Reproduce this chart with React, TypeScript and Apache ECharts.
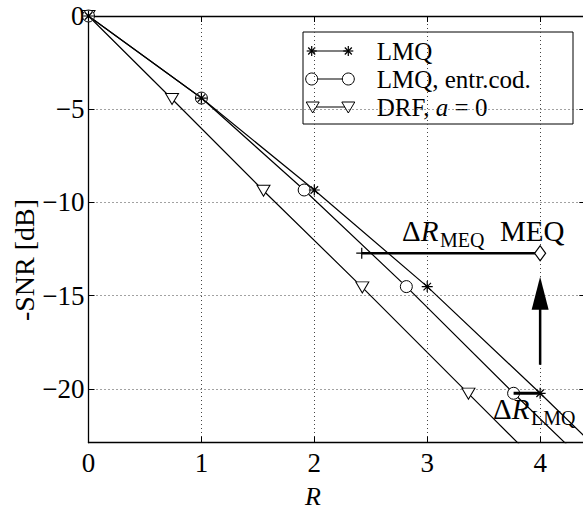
import React, { useEffect, useRef } from "react";
import * as echarts from "echarts";

// ---- data (R, -SNR [dB]) ----
const lmqR = [0, 1, 2, 3, 4, 5];
const lmqSnr = [0, -4.4, -9.33, -14.51, -20.23, -26.1];
const lmqEcR = [0, 1, 1.91, 2.815, 3.765, 4.77];
const lmqEcSnr = [0, -4.4, -9.33, -14.51, -20.23, -26.1];
const drfR = [0, 0.74, 1.55, 2.425, 3.365, 4.4];
const drfSnr = [0, -4.45, -9.37, -14.55, -20.25, -26.5];

const xTicks = [0, 1, 2, 3, 4];
const yTicks = [0, -5, -10, -15, -20];

// annotations
const meqLineR = [2.42, 4];
const meqLineSnr = [-12.72, -12.72];
const dLmqR = [3.765, 4];
const dLmqSnr = [-20.23, -20.23];
const arrowR = [4, 4];
const arrowSnr = [-18.7, -15.7];
const arrowHeadR = [4];
const arrowHeadSnr = [-14.87];

const FONT = "Liberation Serif";

const starPath = "path://M5 0L5 10M0 5L10 5M1.6 1.6L8.4 8.4M1.6 8.4L8.4 1.6";
const circlePath = "path://M0 6A6 6 0 1 0 12 6A6 6 0 1 0 0 6Z";
const triPath = "path://M0 0L12 0L6 10Z";
const diamondPath = "path://M5 0L10 7L5 14L0 7Z";
const plusPath = "path://M0 5L10 5M5 0L5 10";

const pts = (xs: number[], ys: number[]) => xs.map((x, i) => [x, -ys[i]]);

const serif = (size: number, italic = false) => ({
  fontFamily: FONT,
  fontSize: size,
  fontStyle: italic ? "italic" : "normal",
  fill: "#000",
  color: "#000",
});

export default function App() {
  const ref = useRef<HTMLDivElement>(null);
  useEffect(() => {
    document.body.style.margin = "0";
    const chart = echarts.init(ref.current!, undefined, { renderer: "svg" });
    const gridStyle = { color: "#444", type: [1, 3] as any, width: 1 };
    const axisLine = { onZero: false, lineStyle: { color: "#000", width: 1.3 } };
    const tick = { inside: true, length: 6, lineStyle: { color: "#000", width: 1 } };

    const legendRows = [51, 79, 107];
    const lx1 = 311.7, lx2 = 348.3;
    const star = (cx: number, cy: number) => ({
      type: "group",
      children: [
        { type: "line", shape: { x1: cx - 5, y1: cy, x2: cx + 5, y2: cy }, style: { stroke: "#000", lineWidth: 1.2 } },
        { type: "line", shape: { x1: cx, y1: cy - 5, x2: cx, y2: cy + 5 }, style: { stroke: "#000", lineWidth: 1.2 } },
        { type: "line", shape: { x1: cx - 3.5, y1: cy - 3.5, x2: cx + 3.5, y2: cy + 3.5 }, style: { stroke: "#000", lineWidth: 1.2 } },
        { type: "line", shape: { x1: cx - 3.5, y1: cy + 3.5, x2: cx + 3.5, y2: cy - 3.5 }, style: { stroke: "#000", lineWidth: 1.2 } },
      ],
    });
    const tri = (cx: number, cy: number) => ({
      type: "polygon",
      shape: { points: [[cx - 6.5, cy - 5], [cx + 6.5, cy - 5], [cx, cy + 6]] },
      style: { fill: "#fff", stroke: "#000", lineWidth: 1 },
    });
    const circ = (cx: number, cy: number) => ({
      type: "circle",
      shape: { cx, cy, r: 6 },
      style: { fill: "#fff", stroke: "#000", lineWidth: 1 },
    });
    const sampleLine = (y: number) => ({
      type: "line",
      shape: { x1: lx1, y1: y, x2: lx2, y2: y },
      style: { stroke: "#000", lineWidth: 1.2 },
    });
    const richText = (x: number, y: number, text: string, rich: any, extra: any = {}) => ({
      type: "text",
      x,
      y,
      ...extra,
      style: {
        text,
        ...serif(28),
        align: "left",
        verticalAlign: "middle",
        rich,
      },
    });
    const legendRich = { n: serif(25), i: serif(25, true) };

    const option: any = {
      animation: false,
      backgroundColor: "#fff",
      textStyle: { fontFamily: FONT },
      grid: {
        left: 88.5,
        top: 16,
        width: 496.8,
        height: 426.7,
        containLabel: false,
        outerBoundsMode: "none",
      },
      xAxis: [
        {
          type: "value",
          min: 0,
          max: 4.4,
          interval: 1,
          position: "bottom",
          axisLine,
          axisTick: tick,
          axisLabel: {
            fontFamily: FONT,
            fontSize: 27,
            color: "#000",
            margin: 7,
            rich: { t: serif(27) },
            formatter: (v: number) => (xTicks.includes(v) ? "{t|" + v + "}" : ""),
          },
          splitLine: { show: true, lineStyle: gridStyle },
        },
        {
          type: "value",
          min: 0,
          max: 4.4,
          interval: 1,
          position: "top",
          axisLine,
          axisTick: tick,
          axisLabel: { show: false },
          splitLine: { show: false },
        },
      ],
      yAxis: [
        {
          type: "value",
          inverse: true,
          min: 0,
          max: 22.88,
          interval: 5,
          position: "left",
          axisLine,
          axisTick: tick,
          axisLabel: {
            fontFamily: FONT,
            fontSize: 27,
            color: "#000",
            margin: 4,
            rich: { t: serif(27) },
            formatter: (v: number) =>
              yTicks.includes(-v) ? "{t|" + (v === 0 ? "0" : "\u2212" + v) + "}" : "",
          },
          splitLine: { show: true, lineStyle: gridStyle },
        },
        {
          type: "value",
          inverse: true,
          min: 0,
          max: 22.88,
          interval: 5,
          position: "right",
          axisLine,
          axisTick: tick,
          axisLabel: { show: false },
          splitLine: { show: false },
        },
      ],
      series: [
        {
          name: "DRF, a = 0",
          type: "line",
          data: pts(drfR, drfSnr),
          symbol: triPath,
          symbolSize: [13, 11],
          lineStyle: { color: "#000", width: 1.2 },
          itemStyle: { color: "#fff", borderColor: "#000", borderWidth: 1 },
          z: 3,
        },
        {
          name: "LMQ, entr.cod.",
          type: "line",
          data: pts(lmqEcR, lmqEcSnr),
          symbol: circlePath,
          symbolSize: 12,
          lineStyle: { color: "#000", width: 1.2 },
          itemStyle: { color: "#fff", borderColor: "#000", borderWidth: 1 },
          z: 4,
        },
        {
          name: "LMQ",
          type: "line",
          data: pts(lmqR, lmqSnr),
          symbol: starPath,
          symbolSize: 11,
          lineStyle: { color: "#000", width: 1.2 },
          itemStyle: { color: "#000", borderColor: "#000", borderWidth: 1.2 },
          z: 5,
        },
        {
          name: "MEQ",
          type: "line",
          data: pts(meqLineR, meqLineSnr).map((p, i) => ({
            value: p,
            symbol: i === 0 ? plusPath : diamondPath,
            symbolSize: i === 0 ? 11 : [11, 15],
          })),
          lineStyle: { color: "#000", width: 2.5 },
          itemStyle: { color: "#fff", borderColor: "#000", borderWidth: 1.2 },
          z: 6,
        },
        {
          name: "dLMQ",
          type: "line",
          data: pts(dLmqR, dLmqSnr),
          symbol: "none",
          lineStyle: { color: "#000", width: 3 },
          z: 6,
        },
        {
          name: "arrow",
          type: "line",
          data: pts(arrowR, arrowSnr),
          symbol: "none",
          lineStyle: { color: "#000", width: 2.5 },
          z: 6,
        },
        {
          name: "arrowHead",
          type: "scatter",
          data: pts(arrowHeadR, arrowHeadSnr),
          symbol: "triangle",
          symbolSize: [17, 33],
          itemStyle: { color: "#000", opacity: 1 },
          z: 6,
        },
      ],
      graphic: [
        // y axis name
        {
          type: "text",
          x: 24,
          y: 260,
          rotation: Math.PI / 2,
          style: {
            text: "{n|-SNR [dB]}",
            ...serif(28),
            align: "center",
            verticalAlign: "middle",
            rich: { n: serif(28) },
          },
        },
        // x axis name
        {
          type: "text",
          x: 313,
          y: 496,
          style: {
            text: "{i|R}",
            ...serif(26, true),
            align: "center",
            verticalAlign: "middle",
            rich: { i: serif(26, true) },
          },
        },
        // annotation texts
        richText(402, 231, "{d|\u0394}{r|R}", { d: serif(29), r: serif(29, true) }),
        richText(440, 240, "{s|MEQ}", { s: serif(20) }),
        richText(500, 231, "{n|MEQ}", { n: serif(29) }),
        richText(493, 409, "{d|\u0394}{r|R}", { d: serif(29), r: serif(29, true) }),
        richText(531, 418, "{s|LMQ}", { s: serif(20) }),
        // legend
        {
          type: "group",
          z: 100,
          children: [
            {
              type: "rect",
              shape: { x: 303, y: 32, width: 270, height: 92 },
              style: { fill: "#fff", stroke: "#000", lineWidth: 1 },
            },
            sampleLine(legendRows[0]),
            star(lx1, legendRows[0]),
            star(lx2, legendRows[0]),
            sampleLine(legendRows[1]),
            circ(lx1, legendRows[1]),
            circ(lx2, legendRows[1]),
            sampleLine(legendRows[2]),
            tri(lx1 + 1, legendRows[2]),
            tri(lx2, legendRows[2]),
            richText(376.7, legendRows[0], "{n|LMQ}", legendRich),
            richText(376.7, legendRows[1], "{n|LMQ, entr.cod.}", legendRich),
            richText(376.7, legendRows[2], "{n|DRF, }{i|a}{n| = 0}", legendRich),
          ],
        },
      ],
    };
    chart.setOption(option);
    return () => chart.dispose();
  }, []);
  return (
    <div style={{ width: 583, height: 510, overflow: "hidden", background: "#fff" }}>
      <div ref={ref} style={{ width: 600, height: 510 }} />
    </div>
  );
}
